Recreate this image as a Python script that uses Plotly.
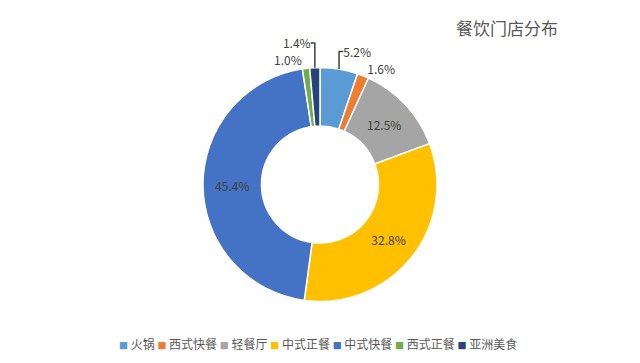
import plotly.graph_objects as go

categories = ["火锅", "西式快餐", "轻餐厅", "中式正餐", "中式快餐", "西式正餐", "亚洲美食"]
values = [5.2, 1.6, 12.5, 32.8, 45.4, 1.0, 1.4]
colors = ["#5B9BD5", "#ED7D31", "#A5A5A5", "#FFC000", "#4472C4", "#70AD47", "#264478"]
positions = ["outside", "outside", "inside", "inside", "inside", "outside", "outside"]
title_text = "餐饮门店分布"

fig = go.Figure(go.Pie(
    labels=categories,
    values=values,
    sort=False,
    direction="clockwise",
    rotation=0,
    hole=0.5,
    marker=dict(colors=colors, line=dict(color="white", width=1.5)),
    texttemplate="%{value:.1f}%",
    textposition=positions,
    insidetextorientation="horizontal",
    textfont=dict(family="Noto Sans CJK SC", size=12, color="#404040"),
    automargin=False,
    showlegend=False,
    domain=dict(x=[0.3172, 0.6828], y=[0.1694, 0.8140]),
))

legend_html = " ".join(
    f"<span style='color:{c};font-size:9px'>■</span> {name}" for name, c in zip(categories, colors)
)

fig.update_layout(
    width=640, height=363,
    margin=dict(l=0, r=0, t=0, b=0),
    paper_bgcolor="white",
    font=dict(family="Noto Sans CJK SC", color="#595959"),
    showlegend=False,
)
fig.add_annotation(text=title_text, x=0.71, y=0.923, xref="paper", yref="paper",
                   xanchor="left", yanchor="middle", showarrow=False,
                   font=dict(size=17, color="#595959"))
fig.add_annotation(text=legend_html, x=0.497, y=0.055, xref="paper", yref="paper",
                   xanchor="center", yanchor="middle", showarrow=False,
                   font=dict(size=12, color="#595959"))

fig.write_html("out.html", config={"displayModeBar": False},
               post_script="document.body.style.margin='0';document.body.style.overflow='hidden';")
